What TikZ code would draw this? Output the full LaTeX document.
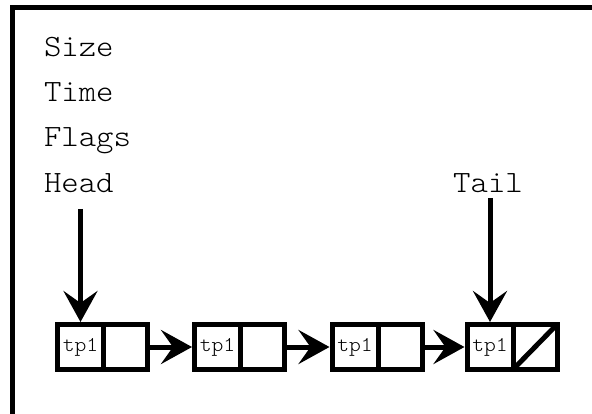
\documentclass[tikz,border=0pt]{standalone}
\usepackage{fontspec}
\setmonofont[FakeStretch=1.07]{Latin Modern Mono Light}
\usetikzlibrary{arrows.meta}
\tikzset{
  field/.style={font=\ttfamily\fontsize{31}{31}\selectfont, inner sep=0pt, outer sep=0pt},
  cell/.style={draw, line width=5pt, inner sep=0pt, outer sep=0pt,
    minimum height=45pt, font=\ttfamily\fontsize{21}{21}\selectfont},
  datacell/.style={cell, minimum width=46pt, anchor=west},
  ptrcell/.style={cell, minimum width=44pt, anchor=west},
  link/.style={line width=5pt, -{Stealth[length=31pt, width=34pt, inset=12pt]}, shorten >=2.5pt},
}
\begin{document}
\begin{tikzpicture}[x=1pt, y=-1pt]
  \useasboundingbox (0,0) rectangle (592,414);
  % outer frame of the structure
  \begin{scope}
    \clip (0,0) rectangle (592,414);
    \draw[line width=5pt] (12.5,7.5) rectangle (598,416);
  \end{scope}

  % header fields
  \node[field, anchor=base west] (size)  at (44,57)  {Size};
  \node[field, anchor=base west] (time)  at (44,102) {Time};
  \node[field, anchor=base west] (flags) at (44,147) {Flags};
  \node[field, anchor=base west] (head)  at (44,193) {Head};
  \node[field, anchor=base]      (tail)  at (488,193) {Tail};

  % list elements: data cell + pointer cell
  \node[datacell] (d1) at (57.5,347) {tp1};
  \node[ptrcell]  (p1) at (d1.east) {};
  \node[datacell] (d2) at (194.5,347) {tp1};
  \node[ptrcell]  (p2) at (d2.east) {};
  \node[datacell] (d3) at (332,347) {tp1};
  \node[ptrcell]  (p3) at (d3.east) {};
  \node[datacell] (d4) at (467,347) {tp1};
  \node[ptrcell]  (p4) at (d4.east) {};

  % null pointer in the last element
  \draw[line width=5pt] (p4.south west) -- (p4.north east);

  % next links
  \draw[link] (p1.east) -- (d2.west);
  \draw[link] (p2.east) -- (d3.west);
  \draw[link] (p3.east) -- (d4.west);

  % head and tail pointers
  \draw[link] (d1.north |- 0,209) -- (d1.north);
  \draw[link] (d4.north |- 0,198) -- (d4.north);
\end{tikzpicture}
\end{document}
